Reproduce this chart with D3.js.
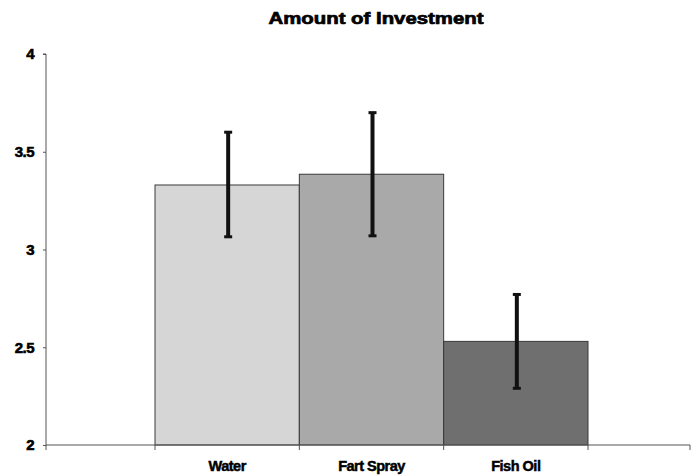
<!DOCTYPE html>
<html><head><meta charset="utf-8">
<script src="https://cdn.jsdelivr.net/npm/d3@7"></script>
<style>body{margin:0;background:#fff;} svg{display:block;}</style>
</head><body>
<svg id="c" width="695" height="476"></svg>
<script>
const title = "Amount of Investment";
const categories = ["Water", "Fart Spray", "Fish Oil"];
const means = [3.33, 3.385, 2.53];
const errHigh = [3.60, 3.70, 2.77];
const errLow = [3.065, 3.07, 2.29];
const barColors = ["#d6d6d6", "#a9a9a9", "#6f6f6f"];
const yTicks = [2, 2.5, 3, 3.5, 4];

const svg = d3.select("#c");
const y = d3.scaleLinear().domain([2, 4]).range([445, 54]);
const x = d3.scaleBand().domain(categories).range([155, 588]).paddingInner(0).paddingOuter(0);
const axisLeftX = 46, axisRightX = 690;
const FONT = "Liberation Sans, Arial, sans-serif";

svg.append("text").attr("x", 376).attr("y", 24).attr("text-anchor", "middle")
  .attr("font-family", FONT).attr("font-weight", "bold")
  .attr("font-size", 16.5).attr("stroke", "#000").attr("stroke-width", 0.7)
  .attr("textLength", 215).attr("lengthAdjust", "spacingAndGlyphs").text(title);

// bars
svg.selectAll("rect.bar").data(categories).join("rect").attr("class", "bar")
  .attr("x", d => x(d)).attr("width", x.bandwidth())
  .attr("y", (d, i) => y(means[i])).attr("height", (d, i) => y(2) - y(means[i]))
  .attr("fill", (d, i) => barColors[i]).attr("stroke", "#3a3a3a").attr("stroke-width", 1);

// y axis
const yAxis = d3.axisLeft(y).tickValues(yTicks).tickSize(3).tickPadding(9)
  .tickFormat(d => d3.format("")(d));
const gy = svg.append("g").attr("transform", `translate(${axisLeftX},0)`).call(yAxis);
gy.select(".domain").attr("stroke", "#555").attr("d", `M-3,${y(4)}H0V${y(2)}`);
gy.selectAll(".tick line").attr("stroke", "#555");
gy.selectAll(".tick text").attr("font-family", FONT)
  .attr("font-weight", "bold").attr("font-size", 15).attr("fill", "#000")
  .attr("stroke", "#000").attr("stroke-width", 0.6).attr("letter-spacing", -0.5);

// x axis
const gx = svg.append("g").attr("transform", `translate(0,${y(2)})`);
gx.append("line").attr("x1", axisLeftX).attr("x2", axisRightX).attr("y1", 0).attr("y2", 0)
  .attr("stroke", "#555").attr("stroke-width", 1.2);
const boundaries = [axisLeftX].concat(categories.map(c => x(c)), [x(categories[2]) + x.bandwidth(), axisRightX]);
gx.selectAll("line.tk").data(boundaries).join("line").attr("class", "tk")
  .attr("x1", d => d).attr("x2", d => d).attr("y1", 0).attr("y2", 5).attr("stroke", "#555");
gx.selectAll("text.cat").data(categories).join("text").attr("class", "cat")
  .attr("x", d => x(d) + x.bandwidth() / 2).attr("y", 26).attr("text-anchor", "middle")
  .attr("font-family", FONT).attr("font-weight", "bold")
  .attr("font-size", 14.5).attr("stroke", "#000").attr("stroke-width", 0.5)
  .attr("letter-spacing", -0.5).text(d => d);

// error bars
const eg = svg.append("g").attr("stroke", "#111");
categories.forEach((c, i) => {
  const cx = x(c) + x.bandwidth() / 2 + 1;
  eg.append("line").attr("x1", cx).attr("x2", cx).attr("y1", y(errHigh[i])).attr("y2", y(errLow[i])).attr("stroke-width", 4);
  eg.append("line").attr("x1", cx - 4).attr("x2", cx + 4).attr("y1", y(errHigh[i])).attr("y2", y(errHigh[i])).attr("stroke-width", 3);
  eg.append("line").attr("x1", cx - 4).attr("x2", cx + 4).attr("y1", y(errLow[i])).attr("y2", y(errLow[i])).attr("stroke-width", 3);
});
</script>
</body></html>
